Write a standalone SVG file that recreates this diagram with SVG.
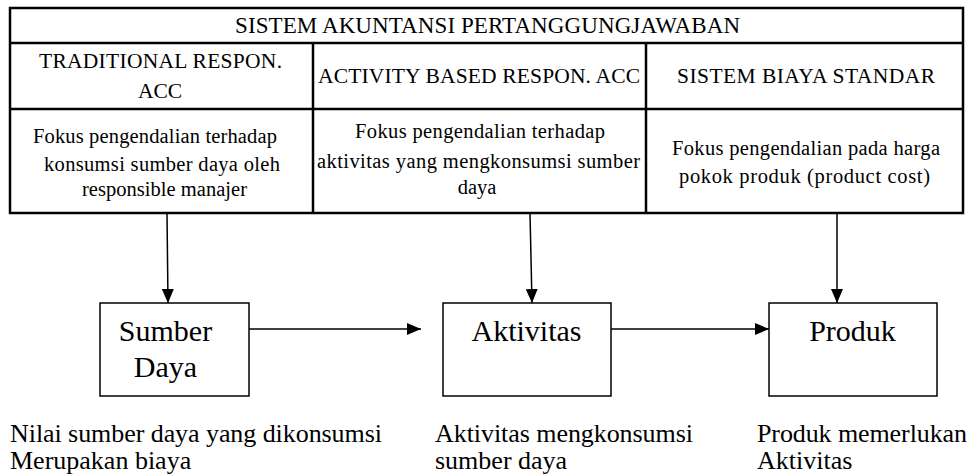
<svg xmlns="http://www.w3.org/2000/svg" width="969" height="474" viewBox="0 0 969 474">
<style>
text{font-family:"Liberation Serif","Times New Roman",serif;fill:#000}
.t{font-size:23px;text-anchor:middle}
.h{font-size:21.5px;text-anchor:middle}
.b{font-size:20.5px;text-anchor:middle}
.n{font-size:30px;text-anchor:middle}
.d{font-size:26px}
.tbl{fill:none;stroke:#000;stroke-width:2.5}
.box{fill:#fff;stroke:#000;stroke-width:1.5}
.c{stroke:#000;stroke-width:1.5;fill:none}
</style>
<defs>
<marker id="ah2" markerWidth="14" markerHeight="12" refX="14" refY="6" orient="auto" markerUnits="userSpaceOnUse" viewBox="0 0 14 12">
<path d="M0,0 L14,6 L0,12 Z" fill="#000"/>
</marker>
</defs>
<g id="table">
<rect class="tbl" x="10" y="8" width="953" height="205"/>
<line class="tbl" x1="10" y1="43" x2="963" y2="43"/>
<line class="tbl" x1="10" y1="109" x2="963" y2="109"/>
<line class="tbl" x1="313" y1="43" x2="313" y2="213"/>
<line class="tbl" x1="646" y1="43" x2="646" y2="213"/>
<text class="t" x="487.5" y="33" textLength="505" lengthAdjust="spacing">SISTEM AKUNTANSI PERTANGGUNGJAWABAN</text>
<text class="h" x="160.5" y="68" textLength="243" lengthAdjust="spacing">TRADITIONAL RESPON.</text>
<text class="h" x="160" y="98">ACC</text>
<text class="h" x="479" y="83" textLength="322" lengthAdjust="spacing">ACTIVITY BASED RESPON. ACC</text>
<text class="h" x="806" y="83" textLength="258" lengthAdjust="spacing">SISTEM BIAYA STANDAR</text>
<text class="b" x="155" y="143" textLength="244" lengthAdjust="spacing">Fokus pengendalian terhadap</text>
<text class="b" x="162" y="171" textLength="236" lengthAdjust="spacing">konsumsi sumber daya oleh</text>
<text class="b" x="164.5" y="196" textLength="165" lengthAdjust="spacing">responsible manajer</text>
<text class="b" x="480" y="138" textLength="250" lengthAdjust="spacing">Fokus pengendalian terhadap</text>
<text class="b" x="478.5" y="168" textLength="323" lengthAdjust="spacing">aktivitas yang mengkonsumsi sumber</text>
<text class="b" x="477" y="194">daya</text>
<text class="b" x="806" y="155" textLength="268" lengthAdjust="spacing">Fokus pengendalian pada harga</text>
<text class="b" x="804.5" y="183" textLength="251" lengthAdjust="spacing">pokok produk (product cost)</text>
</g>
<g id="connectors">
<line class="c" x1="167" y1="213" x2="168" y2="303" marker-end="url(#ah2)"/>
<line class="c" x1="530" y1="213" x2="532" y2="303" marker-end="url(#ah2)"/>
<line class="c" x1="837" y1="213" x2="837" y2="303" marker-end="url(#ah2)"/>
<line class="c" x1="249" y1="329" x2="421" y2="329" marker-end="url(#ah2)"/>
<line class="c" x1="611" y1="329" x2="769" y2="329" marker-end="url(#ah2)"/>
</g>
<g id="sumber-daya">
<rect class="box" x="100" y="303" width="149" height="93"/>
<text class="n" x="165.5" y="341">Sumber</text>
<text class="n" x="165.5" y="377">Daya</text>
</g>
<g id="aktivitas">
<rect class="box" x="443" y="303" width="168" height="93"/>
<text class="n" x="526.5" y="341">Aktivitas</text>
</g>
<g id="produk">
<rect class="box" x="769" y="303" width="168" height="93"/>
<text class="n" x="852.5" y="341">Produk</text>
</g>
<g id="notes">
<text class="d" x="10" y="442" textLength="372" lengthAdjust="spacing">Nilai sumber daya yang dikonsumsi</text>
<text class="d" x="10" y="469">Merupakan biaya</text>
<text class="d" x="435" y="442" textLength="258" lengthAdjust="spacing">Aktivitas mengkonsumsi</text>
<text class="d" x="435" y="469">sumber daya</text>
<text class="d" x="757" y="442" textLength="210" lengthAdjust="spacing">Produk memerlukan</text>
<text class="d" x="757" y="469">Aktivitas</text>
</g>
</svg>
